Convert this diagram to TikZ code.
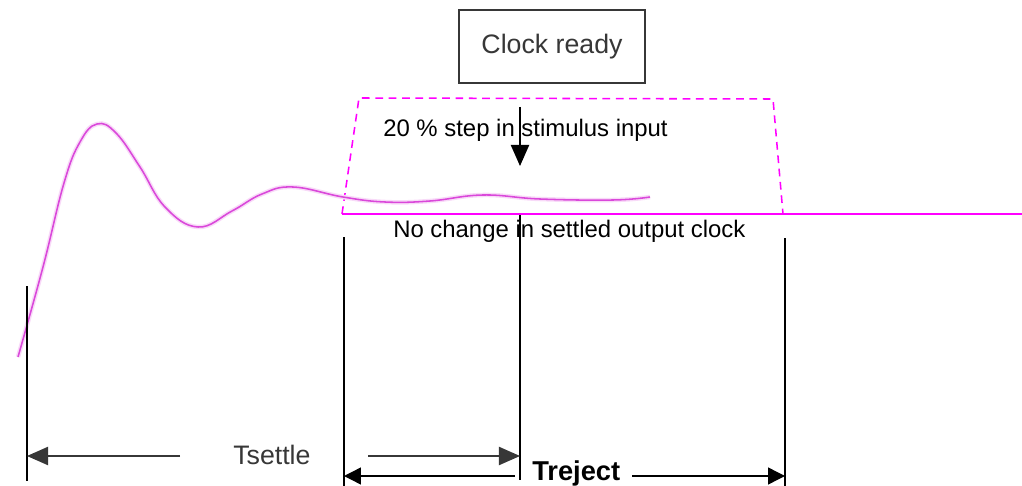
\documentclass[tikz,border=0pt]{standalone}
\usepackage{fontspec}
\setmainfont{Liberation Sans}
\usetikzlibrary{arrows.meta, positioning}

\definecolor{trace}{RGB}{218,72,218}
\definecolor{pinkline}{RGB}{255,0,255}
\definecolor{softblack}{RGB}{55,55,55}

\begin{document}
\begin{tikzpicture}[x=0.025cm, y=-0.025cm,
    txt/.style={inner sep=0pt, font=\fontsize{17}{20}\selectfont},
    bigtxt/.style={inner sep=0pt, font=\fontsize{19}{22}\selectfont, text=softblack},
    clockbox/.style={draw=softblack, line width=0.9pt, minimum width=4.65cm,
        minimum height=1.825cm, inner sep=0pt, font=\fontsize{19}{22}\selectfont, text=softblack},
    edgeline/.style={line width=0.8pt},
    dimtip/.style={-{Triangle[length=15pt, width=13pt]}, line width=1pt},
    rejtip/.style={-{Triangle[length=12pt, width=12pt]}, line width=1pt},
    envelope/.style={pinkline, line width=1.1pt, dash pattern=on 5.5pt off 4pt},
    glow/.style={trace!20, line width=3.2pt},
    wave/.style={trace, line width=1.1pt},
]

    % Page size
    \useasboundingbox (0,0) rectangle (1022,486);

    % Levels
    \def\ylevel{214}
    \def\yset{456}
    \def\yrej{476}

    % Clock ready box
    \node[clockbox] (clock) at (552,46.5) {Clock ready};

    % Envelope round the settled clock
    \draw[envelope] (342,\ylevel) -- (359,98) -- (773,99) -- (783,\ylevel);
    \draw[pinkline, line width=1.3pt] (342,\ylevel) -- (1022,\ylevel);

    % Settling output
    \foreach \sty in {glow, wave}{
        \draw[\sty] plot[smooth, tension=0.7] coordinates {
            (18,357) (43,267) (64,183) (80,142) (97,124) (116,133)
            (140,167) (165,207) (198,227) (232,211) (262,194) (293,187)
            (343,197) (385,202) (430,201) (483,195) (540,199) (613,200) (650,197)};
    }

    % Time markers
    \coordinate (aTop) at (27,286);   \coordinate (aBot) at (27,481);
    \coordinate (bTop) at (344,237);  \coordinate (bBot) at (344,486);
    \coordinate (cTop) at (520,215);  \coordinate (cBot) at (520,480);
    \coordinate (dTop) at (785,238);  \coordinate (dBot) at (785,486);
    \foreach \n in {a, b, c, d}{
        \draw[edgeline] (\n Top) -- (\n Bot);
    }

    % Labels
    \node[txt, anchor=base west] (stepnote) at (383,137) {20 \% step in stimulus input};
    \node[txt, anchor=base west] (nochange) at (393,237) {No change in settled output clock};
    \node[bigtxt, anchor=base west] (tsettle) at (233,464) {Tsettle};
    \node[bigtxt, anchor=base west, text=black, font=\fontsize{19.4}{22}\selectfont\bfseries]
        (treject) at (532,480) {Treject};

    % Step input arrow
    \coordinate (stepfrom) at (520,107);
    \coordinate (stepto) at (520,166);
    \draw[dimtip] (stepfrom) -- (stepto);

    % Tsettle arrows
    \coordinate (setL) at (180,\yset);
    \coordinate (setR) at (368,\yset);
    \draw[dimtip, softblack] (setL) -- (aTop |- setL);
    \draw[dimtip, softblack] (setR) -- (cTop |- setR);

    % Treject arrows
    \coordinate (rejL) at (515,\yrej);
    \coordinate (rejR) at (632,\yrej);
    \draw[rejtip] (rejL) -- (bTop |- rejL);
    \draw[rejtip] (rejR) -- (dTop |- rejR);

\end{tikzpicture}
\end{document}
